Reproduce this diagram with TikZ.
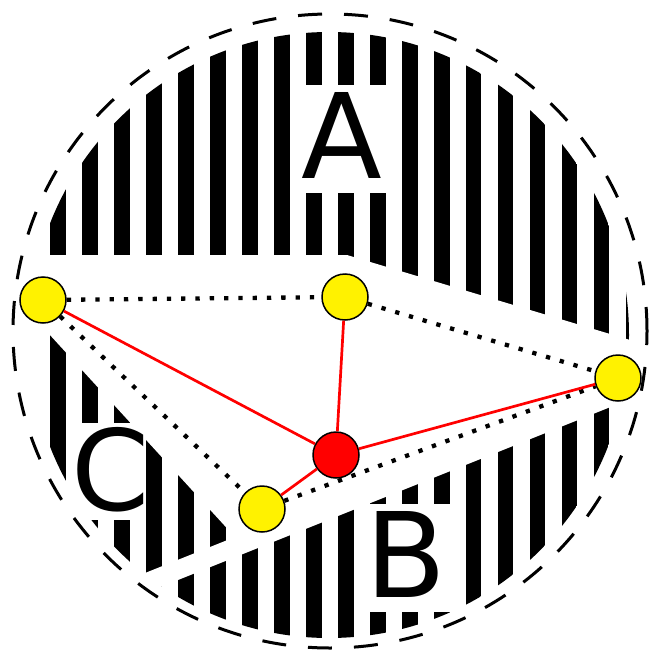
\documentclass[tikz,border=0pt]{standalone}
\usepackage{fontspec}
\setmainfont{DejaVu Sans}
\usetikzlibrary{positioning}

\begin{document}
\begin{tikzpicture}[x=1pt, y=-1pt,
    site/.style={circle, draw=black, line width=1.5pt, fill=yellow, minimum size=46pt, inner sep=0pt},
    hub/.style={site, fill=red},
    link/.style={red, line width=2.7pt},
    hull/.style={black, line width=4.3pt, dash pattern=on 4.3pt off 10pt},
    regionlabel/.style={fill=white, anchor=base, inner xsep=7pt, inner ysep=7pt, text height=86pt, text depth=8pt, font=\fontsize{118}{118}\selectfont}
]
    \useasboundingbox (0,0) rectangle (648,653);

    % Striped regions
    \begin{scope}
        \clip (329,335) ellipse [x radius=300pt, y radius=303pt];
        \foreach \k in {0,...,18}
            \fill[black] ({50.4+31.95*\k},0) rectangle ++(15.7,653);
    \end{scope}

    % White gap between A, B and C
    \fill[white] (0,255) -- (347,255) -- (660,349) -- (660,387.2) -- (0,651.2)
        -- (0,631) -- (235,537) -- (0,280.5) -- cycle;

    % Region labels
    \node[regionlabel] (labA) at (342,178) {A};
    \node[regionlabel] (labB) at (406,597) {B};
    \node[regionlabel, inner xsep=-8pt, inner ysep=2pt, text depth=7pt, font=\fontsize{112}{112}\selectfont] (labC) at (111,510.5) {C};

    % Outer boundary
    \draw[line width=3pt, dash pattern=on 24pt off 22pt] (330,331) circle [radius=317pt];

    % Sites
    \node[site] (sleft) at (43,300) {};
    \node[site] (stop) at (345,297) {};
    \node[site] (sright) at (618,378) {};
    \node[site] (sbottom) at (262,509) {};
    \node[hub] (center) at (336,455) {};

    % Hull edges
    \draw[hull] (sleft) -- (stop);
    \draw[hull] (stop) -- (sright);
    \draw[hull] (sleft) -- (sbottom);
    \draw[hull] (sbottom) -- (sright);

    % Links to the hub
    \draw[link] (center) -- (sleft);
    \draw[link] (center) -- (stop);
    \draw[link] (center) -- (sright);
    \draw[link] (center) -- (sbottom);

\end{tikzpicture}
\end{document}
